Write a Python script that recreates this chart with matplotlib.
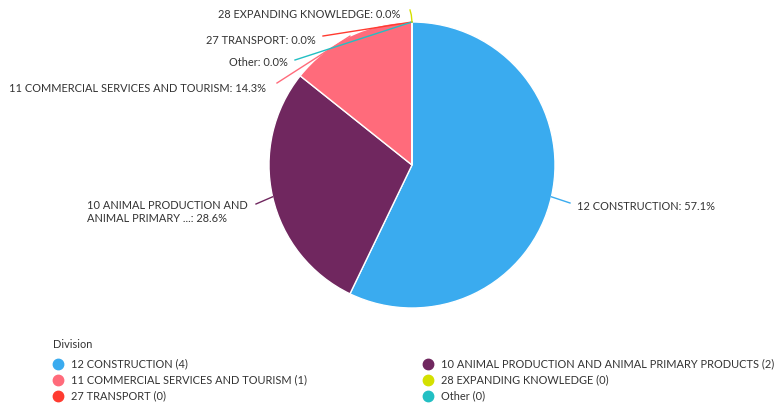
import numpy as np
import matplotlib
matplotlib.use("Agg")
import matplotlib.pyplot as plt

# --- Datos ---
divisions = ["12 CONSTRUCTION", "10 ANIMAL PRODUCTION AND ANIMAL PRIMARY PRODUCTS",
             "11 COMMERCIAL SERVICES AND TOURISM", "27 TRANSPORT",
             "Other", "28 EXPANDING KNOWLEDGE"]
counts = [4, 2, 1, 0, 0, 0]
colors = ["#3aabef", "#70275f", "#ff6b7b", "#ff3b30", "#22bfc3", "#d4e000"]
pie_labels = ["12 CONSTRUCTION", "10 ANIMAL PRODUCTION AND\nANIMAL PRIMARY ...",
              "11 COMMERCIAL SERVICES AND TOURISM", "27 TRANSPORT",
              "Other", "28 EXPANDING KNOWLEDGE"]
legend_order = [0, 1, 2, 5, 3, 4]

plt.rcParams['font.family'] = ['Lato', 'DejaVu Sans']
FS = 7.9
W, H = 774, 409
fig = plt.figure(figsize=(W / 100, H / 100), dpi=100)

cx, cy, R = 412, 165, 143
ax = fig.add_axes([(cx - R) / W, (H - cy - R) / H, 2 * R / W, 2 * R / H])

wedges, _ = ax.pie(counts, colors=colors, startangle=90, counterclock=False, radius=1,
                   wedgeprops=dict(edgecolor="white", linewidth=1))
ax.set_xlim(-1, 1)
ax.set_ylim(-1, 1)
ax.axis("off")


def px(x, y):
    return (x - cx) / R, (cy - y) / R


total = sum(counts)
pct = [100 * c / total for c in counts]
# posiciones de etiquetas en pixeles (alineacion, x, y)
label_pos = [("left", 577, 206), ("left", 87, 212), ("right", 266, 88),
             ("right", 316, 40), ("right", 288, 63), ("right", 400, 15)]
line_end = [(570, 203), (256, 204), (277, 83), (323, 36), (295, 60), (410, 10)]

for i, w in enumerate(wedges):
    ang = np.deg2rad((w.theta1 + w.theta2) / 2)
    ex, ey = np.cos(ang), np.sin(ang)
    lx, ly = px(*line_end[i])
    if i == 5:
        ax.plot([ex, ex - 0.005, lx], [ey, ey + 0.05, ly], color=colors[i], lw=1, clip_on=False)
    else:
        ax.plot([ex, lx], [ey, ly], color=colors[i], lw=1, clip_on=False)
    side, tx, ty = label_pos[i]
    x, y = px(tx, ty)
    ax.text(x, y, f"{pie_labels[i]}: {pct[i]:.1f}%", ha=side, va="center",
            multialignment="left", fontsize=FS, color="#333333", linespacing=1.2)

# --- Leyenda ---
fig.text(53 / W, 1 - 344 / H, "Division", fontsize=FS, color="#333333", va="center")
col_x = [58, 428]
row_y = [364, 380, 396]
for k, idx in enumerate(legend_order):
    col = k % 2
    row = k // 2
    mx, my = col_x[col], row_y[row]
    fig.lines.append(plt.Line2D([mx / W], [1 - my / H], marker="o", markersize=7.5,
                                color=colors[idx], transform=fig.transFigure))
    fig.text((mx + 13) / W, 1 - my / H, f"{divisions[idx]} ({counts[idx]})",
             fontsize=FS, color="#333333", va="center")

fig.savefig("out.png", dpi=100)
